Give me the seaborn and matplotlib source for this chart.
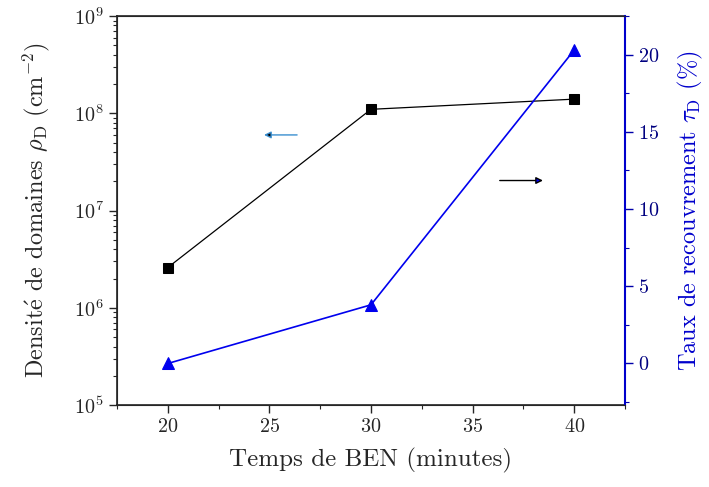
import numpy as np
import pandas as pd
import seaborn as sns
import matplotlib.pyplot as plt
from matplotlib.ticker import MultipleLocator, LogLocator, NullFormatter

# data
temps = [20, 30, 40]
densite = [2.6e6, 1.1e8, 1.4e8]
recouvrement = [0.0, 3.8, 20.3]

sns.set_style("ticks")
plt.rcParams['font.family'] = ['cmr10', 'DejaVu Serif']
plt.rcParams['mathtext.fontset'] = 'cm'
plt.rcParams['axes.formatter.use_mathtext'] = True

df = pd.DataFrame({'temps': temps, 'densite': densite, 'recouvrement': recouvrement})

fig = plt.figure(figsize=(7.09, 4.87), dpi=100)
ax = fig.add_axes([0.165, 0.168, 0.7165, 0.799])
ax2 = ax.twinx()

sns.lineplot(data=df, x='temps', y='densite', ax=ax, color='black', marker='s',
             markersize=7, markeredgecolor='black', linewidth=0.9)
sns.lineplot(data=df, x='temps', y='recouvrement', ax=ax2, color='#0000ee', marker='^',
             markersize=9, markeredgecolor='#0000ee', linewidth=1.2)

ax.set_yscale('log')
ax.set_ylim(1e5, 1e9)
ax.set_xlim(17.5, 42.5)
ax2.set_ylim(-2.7, 22.5)

ax.xaxis.set_major_locator(MultipleLocator(5))
ax.xaxis.set_minor_locator(MultipleLocator(2.5))
ax.yaxis.set_major_locator(LogLocator(base=10, numticks=10))
ax.yaxis.set_minor_locator(LogLocator(base=10, subs=np.arange(2, 10), numticks=20))
ax.yaxis.set_minor_formatter(NullFormatter())
ax2.yaxis.set_major_locator(MultipleLocator(5))
ax2.yaxis.set_minor_locator(MultipleLocator(2.5))

ax.tick_params(axis='both', which='major', labelsize=14.5, length=6, width=1)
ax.tick_params(axis='both', which='minor', length=3, width=0.8)
ax2.tick_params(axis='y', which='major', labelsize=14.5, length=6, width=1,
                colors='#0000aa', labelcolor='#000080')
ax2.tick_params(axis='y', which='minor', length=3, width=0.8, colors='#0000aa')

for s in ['left', 'bottom', 'top']:
    ax.spines[s].set_linewidth(1.2)
    ax.spines[s].set_color('#222222')
ax2.spines['right'].set_color('#0000cc')
ax2.spines['right'].set_linewidth(1.5)
ax.spines['right'].set_visible(False)

ax.set_xlabel('Temps de BEN (minutes)', fontsize=18, labelpad=8)
ax.set_ylabel(r'Densit$\acute{\mathrm{e}}$ de domaines $\rho_\mathrm{D}$ (cm$^{-2}$)',
              fontsize=17.5, labelpad=16)
ax2.set_ylabel(r'Taux de recouvrement $\tau_\mathrm{D}$ (%)', fontsize=17.5,
               color='#0000cc', labelpad=12)

# arrows pointing to each axis
ax.annotate('', xy=(24.6, 6e7), xytext=(26.5, 6e7),
            arrowprops=dict(arrowstyle='-|>', color='#3a8fd0', lw=1.0,
                            mutation_scale=10, fc='black', ec='#3a8fd0'))
ax2.annotate('', xy=(38.6, 11.85), xytext=(36.2, 11.85),
             arrowprops=dict(arrowstyle='-|>', color='black', lw=1.0,
                             mutation_scale=10, fc='#0000ee', ec='black'))

fig.savefig('out.png', dpi=100)
